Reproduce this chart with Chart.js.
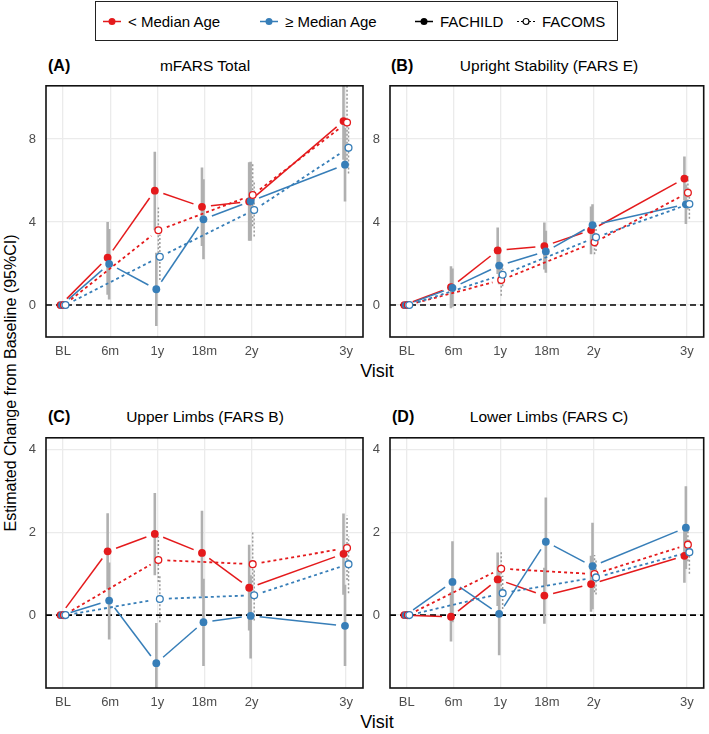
<!DOCTYPE html>
<html>
<head>
<meta charset="utf-8">
<script src="https://cdn.jsdelivr.net/npm/chart.js@4/dist/chart.umd.min.js"></script>
<style>
  body { margin: 0; background: #fff; font-family: "Liberation Sans", Arial, sans-serif; }
  #page { position: relative; width: 709px; height: 734px; overflow: hidden; }
  .abs { position: absolute; white-space: nowrap; }
  .center { transform: translate(-50%, -50%); }
  .tag { font-weight: bold; font-size: 16px; transform: translateY(-50%); }
  .title { font-size: 15.5px; }
  .visit { font-size: 18px; }
  canvas { position: absolute; }
  #legend { position: absolute; left: 95px; top: 1px; width: 521px; height: 38px; border: 1.5px solid #222; }
  .key { position: absolute; top: 50%; transform: translateY(-50%); font-size: 15px; display: flex; align-items: center; }
  .key svg { margin-right: 6px; }
</style>
</head>
<body>
<div id="page">
  <div id="legend">
    <div class="key" style="left:6px">
      <svg width="20" height="12"><line x1="1" y1="6" x2="19" y2="6" stroke="#E41A1C" stroke-width="1.5"/><circle cx="10" cy="6" r="3.5" fill="#E41A1C"/></svg>&lt; Median Age
    </div>
    <div class="key" style="left:163px">
      <svg width="20" height="12"><line x1="1" y1="6" x2="19" y2="6" stroke="#377EB8" stroke-width="1.5"/><circle cx="10" cy="6" r="3.5" fill="#377EB8"/></svg>≥ Median Age
    </div>
    <div class="key" style="left:318px">
      <svg width="20" height="12"><line x1="1" y1="6" x2="19" y2="6" stroke="#000" stroke-width="1.5"/><circle cx="10" cy="6" r="3.5" fill="#000"/></svg>FACHILD
    </div>
    <div class="key" style="left:420px">
      <svg width="20" height="12"><line x1="1" y1="6" x2="19" y2="6" stroke="#000" stroke-width="1.2" stroke-dasharray="2,2"/><circle cx="10" cy="6" r="3" fill="#fff" stroke="#000" stroke-width="1.2"/></svg>FACOMS
    </div>
  </div>

  <div class="abs tag" style="left:48px; top:66px">(A)</div>
  <div class="abs title center" style="left:205px; top:66px">mFARS Total</div>
  <div class="abs tag" style="left:391px; top:66px">(B)</div>
  <div class="abs title center" style="left:549px; top:66px">Upright Stability (FARS E)</div>
  <div class="abs tag" style="left:48px; top:417px">(C)</div>
  <div class="abs title center" style="left:205px; top:417px">Upper Limbs (FARS B)</div>
  <div class="abs tag" style="left:392px; top:417px">(D)</div>
  <div class="abs title center" style="left:549px; top:417px">Lower Limbs (FARS C)</div>

  <div class="abs visit center" style="left:377px; top:371px">Visit</div>
  <div class="abs visit center" style="left:377px; top:722px">Visit</div>
  <div class="abs center" style="left:11px; top:383px; font-size:16px; transform: translate(-50%, -50%) rotate(-90deg);">Estimated Change from Baseline (95%CI)</div>

  <canvas id="panelA" width="370" height="300" style="left:0; top:68px"></canvas>
  <canvas id="panelB" width="347" height="300" style="left:362px; top:68px"></canvas>
  <canvas id="panelC" width="370" height="300" style="left:0; top:420px"></canvas>
  <canvas id="panelD" width="347" height="300" style="left:362px; top:420px"></canvas>
</div>

<script>
// Visits
const visitLabels = ['BL', '6m', '1y', '18m', '2y', '3y'];
const visitMonths = [0, 6, 12, 18, 24, 36];
const comsMonths = [0, 12, 24, 36];   // FACOMS only has yearly visits
const topTicks = [0, 4, 8];
const bottomTicks = [0, 2, 4];

// (A) mFARS Total  -- "Young" = < median age, "Old" = >= median age
const aChildYoung = [0, 2.28, 5.51, 4.73, 4.99, 8.86];
const aChildYoungLo = [0, 0.50, 3.60, 2.84, 3.10, 7.00];
const aChildYoungHi = [0, 4.00, 7.38, 6.62, 6.88, 10.70];
const aChildOld = [0, 1.98, 0.76, 4.13, 5.00, 6.76];
const aChildOldLo = [0, 0.27, -1.01, 2.21, 3.10, 4.99];
const aChildOldHi = [0, 3.66, 2.52, 6.06, 6.90, 8.53];
const aComsYoung = [0, 3.60, 5.30, 8.79];
const aComsYoungLo = [0, 2.50, 3.80, 7.00];
const aComsYoungHi = [0, 4.70, 6.80, 10.60];
const aComsOld = [0, 2.32, 4.58, 7.57];
const aComsOldLo = [0, 1.20, 3.30, 6.34];
const aComsOldHi = [0, 3.40, 5.90, 8.80];

// (B) Upright Stability (FARS E)
const bChildYoung = [0, 0.86, 2.63, 2.84, 3.61, 6.09];
const bChildYoungLo = [0, -0.16, 1.50, 1.71, 2.45, 5.03];
const bChildYoungHi = [0, 1.87, 3.74, 3.97, 4.75, 7.15];
const bChildOld = [0, 0.83, 1.90, 2.58, 3.85, 4.85];
const bChildOldLo = [0, -0.08, 1.00, 1.56, 2.90, 3.90];
const bChildOldHi = [0, 1.76, 2.80, 3.58, 4.86, 5.80];
const bComsYoung = [0, 1.20, 3.02, 5.41];
const bComsYoungLo = [0, 0.45, 2.45, 4.60];
const bComsYoungHi = [0, 1.95, 3.60, 6.20];
const bComsOld = [0, 1.46, 3.26, 4.87];
const bComsOldLo = [0, 0.90, 2.60, 4.16];
const bComsOldHi = [0, 2.00, 3.90, 5.60];

// (C) Upper Limbs (FARS B)
const cChildYoung = [0, 1.54, 1.96, 1.50, 0.66, 1.48];
const cChildYoungLo = [0, 0.62, 0.96, 0.45, -0.37, 0.49];
const cChildYoungHi = [0, 2.46, 2.95, 2.52, 1.70, 2.45];
const cChildOld = [0, 0.35, -1.16, -0.17, -0.02, -0.26];
const cChildOldLo = [0, -0.59, -2.13, -1.23, -1.05, -1.23];
const cChildOldHi = [0, 1.27, -0.19, 0.88, 0.96, 0.73];
const cComsYoung = [0, 1.33, 1.23, 1.62];
const cComsYoungLo = [0, 0.80, 0.50, 0.85];
const cComsYoungHi = [0, 1.90, 2.00, 2.40];
const cComsOld = [0, 0.39, 0.48, 1.23];
const cComsOldLo = [0, -0.17, -0.13, 0.53];
const cComsOldHi = [0, 0.95, 1.10, 1.90];

// (D) Lower Limbs (FARS C)
const dChildYoung = [0, -0.04, 0.86, 0.47, 0.75, 1.43];
const dChildYoungLo = [0, -0.64, 0.22, -0.21, 0.08, 0.78];
const dChildYoungHi = [0, 0.56, 1.51, 1.14, 1.43, 2.08];
const dChildOld = [0, 0.80, 0.03, 1.77, 1.18, 2.11];
const dChildOldLo = [0, -0.17, -0.97, 0.70, 0.14, 1.11];
const dChildOldHi = [0, 1.78, 1.02, 2.84, 2.23, 3.11];
const dComsYoung = [0, 1.12, 0.99, 1.70];
const dComsYoungLo = [0, 0.60, 0.55, 1.30];
const dComsYoungHi = [0, 1.55, 1.45, 2.10];
const dComsOld = [0, 0.53, 0.91, 1.52];
const dComsOldLo = [0, 0.15, 0.50, 1.00];
const dComsOldHi = [0, 0.95, 1.35, 1.82];

const RED = '#E41A1C';
const BLUE = '#377EB8';
const FONT = '"Liberation Sans", Arial, sans-serif';
// horizontal dodge (months) so the four groups don't sit on top of each other
const DODGE = { childYoung: -0.32, childOld: -0.13, comsYoung: 0.13, comsOld: 0.32 };

// zero reference line, box frame and point-to-point paths with gaps at the points
const panelDecor = {
  id: 'panelDecor',
  beforeDatasetsDraw(chart) {
    const { ctx, chartArea } = chart;
    const y0 = chart.scales.y.getPixelForValue(0);
    ctx.save();
    ctx.strokeStyle = '#000';
    ctx.lineWidth = 1.6;
    ctx.setLineDash([6, 4]);
    ctx.beginPath();
    ctx.moveTo(chartArea.left, y0);
    ctx.lineTo(chartArea.right, y0);
    ctx.stroke();
    ctx.restore();
  },
  beforeDatasetDraw(chart, args) {
    const ds = chart.data.datasets[args.index];
    if (!ds.path) return;
    const { ctx, chartArea } = chart;
    const pts = args.meta.data;
    const gap = 9;
    ctx.save();
    ctx.beginPath();
    ctx.rect(chartArea.left, chartArea.top, chartArea.right - chartArea.left, chartArea.bottom - chartArea.top);
    ctx.clip();
    ctx.strokeStyle = ds.path.color;
    ctx.lineWidth = ds.path.width;
    ctx.setLineDash(ds.path.dash);
    for (let i = 0; i < pts.length - 1; i++) {
      const p0 = pts[i], p1 = pts[i + 1];
      const dx = p1.x - p0.x, dy = p1.y - p0.y;
      const len = Math.hypot(dx, dy);
      if (len <= gap * 2) continue;
      const ux = dx / len, uy = dy / len;
      ctx.beginPath();
      ctx.moveTo(p0.x + ux * gap, p0.y + uy * gap);
      ctx.lineTo(p1.x - ux * gap, p1.y - uy * gap);
      ctx.stroke();
    }
    ctx.restore();
  },
  afterDraw(chart) {
    const { ctx, chartArea } = chart;
    ctx.save();
    ctx.strokeStyle = '#111';
    ctx.lineWidth = 1.6;
    ctx.strokeRect(chartArea.left, chartArea.top, chartArea.right - chartArea.left, chartArea.bottom - chartArea.top);
    ctx.restore();
  }
};

function toPoints(months, vals, shift) {
  return vals.map((v, i) => ({ x: months[i] + shift, y: v }));
}

// vertical CI segments, separated by nulls so the line breaks between visits
function toBars(months, lo, hi, shift) {
  const out = [];
  lo.forEach((l, i) => {
    if (l === hi[i]) return;
    const x = months[i] + shift;
    out.push({ x: x, y: l }, { x: x, y: hi[i] }, { x: x, y: null });
  });
  return out;
}

function pointSet(data, color, open, dashed) {
  return {
    type: 'line',
    data: data,
    showLine: false,
    pointRadius: open ? 3.4 : 3.9,
    pointBorderWidth: open ? 1.3 : 0,
    pointBackgroundColor: open ? '#fff' : color,
    pointBorderColor: color,
    path: { color: color, width: dashed ? 1.8 : 1.5, dash: dashed ? [3, 3] : [] },
    clip: false
  };
}

function barSet(data, dotted) {
  return {
    type: 'line',
    data: data,
    borderColor: dotted ? '#9a9a9a' : '#b0b0b0',
    borderWidth: dotted ? 1.5 : 2.6,
    borderDash: dotted ? [2, 2] : [],
    pointRadius: 0,
    spanGaps: false,
    clip: 0
  };
}

function drawPanel(id, yMin, yMax, yTicks, yWidth, padRight, xHeight, s) {
  const ctx = document.getElementById(id).getContext('2d');
  return new Chart(ctx, {
    type: 'line',
    data: {
      datasets: [
        pointSet(toPoints(comsMonths, s.comsOld, DODGE.comsOld), BLUE, true, true),
        pointSet(toPoints(comsMonths, s.comsYoung, DODGE.comsYoung), RED, true, true),
        pointSet(toPoints(visitMonths, s.childOld, DODGE.childOld), BLUE, false, false),
        pointSet(toPoints(visitMonths, s.childYoung, DODGE.childYoung), RED, false, false),
        barSet(toBars(comsMonths, s.comsOldLo, s.comsOldHi, DODGE.comsOld), true),
        barSet(toBars(comsMonths, s.comsYoungLo, s.comsYoungHi, DODGE.comsYoung), true),
        barSet(toBars(visitMonths, s.childOldLo, s.childOldHi, DODGE.childOld), false),
        barSet(toBars(visitMonths, s.childYoungLo, s.childYoungHi, DODGE.childYoung), false)
      ]
    },
    options: {
      responsive: false,
      animation: false,
      layout: { padding: { top: 10, right: padRight, left: 0, bottom: 0 } },
      plugins: { legend: { display: false }, tooltip: { enabled: false } },
      scales: {
        x: {
          type: 'linear',
          min: -2.16,
          max: 38.16,
          afterBuildTicks: (scale) => { scale.ticks = visitMonths.map(v => ({ value: v })); },
          afterFit: (scale) => { scale.height = xHeight; },
          grid: { color: '#ebebeb', lineWidth: 1.3, drawTicks: false },
          border: { display: false },
          ticks: {
            color: '#4d4d4d',
            font: { size: 13, family: FONT },
            padding: 7,
            maxRotation: 0,
            autoSkip: false,
            callback: (v) => visitLabels[visitMonths.indexOf(v)]
          }
        },
        y: {
          type: 'linear',
          min: yMin,
          max: yMax,
          afterBuildTicks: (scale) => { scale.ticks = yTicks.map(v => ({ value: v })); },
          afterFit: (scale) => { scale.width = yWidth; },
          grid: { color: '#ebebeb', lineWidth: 1.3, drawTicks: false },
          border: { display: false },
          ticks: {
            color: '#4d4d4d',
            font: { size: 13, family: FONT },
            padding: 10
          }
        }
      }
    },
    plugins: [panelDecor]
  });
}

drawPanel('panelA', -1.54, 10.56, topTicks, 46, 7, 31, {
  childYoung: aChildYoung, childYoungLo: aChildYoungLo, childYoungHi: aChildYoungHi,
  childOld: aChildOld, childOldLo: aChildOldLo, childOldHi: aChildOldHi,
  comsYoung: aComsYoung, comsYoungLo: aComsYoungLo, comsYoungHi: aComsYoungHi,
  comsOld: aComsOld, comsOldLo: aComsOldLo, comsOldHi: aComsOldHi
});
drawPanel('panelB', -1.54, 10.56, topTicks, 28, 2, 31, {
  childYoung: bChildYoung, childYoungLo: bChildYoungLo, childYoungHi: bChildYoungHi,
  childOld: bChildOld, childOldLo: bChildOldLo, childOldHi: bChildOldHi,
  comsYoung: bComsYoung, comsYoungLo: bComsYoungLo, comsYoungHi: bComsYoungHi,
  comsOld: bComsOld, comsOldLo: bComsOldLo, comsOldHi: bComsOldHi
});
drawPanel('panelC', -1.76, 4.28, bottomTicks, 46, 7, 32, {
  childYoung: cChildYoung, childYoungLo: cChildYoungLo, childYoungHi: cChildYoungHi,
  childOld: cChildOld, childOldLo: cChildOldLo, childOldHi: cChildOldHi,
  comsYoung: cComsYoung, comsYoungLo: cComsYoungLo, comsYoungHi: cComsYoungHi,
  comsOld: cComsOld, comsOldLo: cComsOldLo, comsOldHi: cComsOldHi
});
drawPanel('panelD', -1.76, 4.28, bottomTicks, 28, 2, 32, {
  childYoung: dChildYoung, childYoungLo: dChildYoungLo, childYoungHi: dChildYoungHi,
  childOld: dChildOld, childOldLo: dChildOldLo, childOldHi: dChildOldHi,
  comsYoung: dComsYoung, comsYoungLo: dComsYoungLo, comsYoungHi: dComsYoungHi,
  comsOld: dComsOld, comsOldLo: dComsOldLo, comsOldHi: dComsOldHi
});
</script>
</body>
</html>
